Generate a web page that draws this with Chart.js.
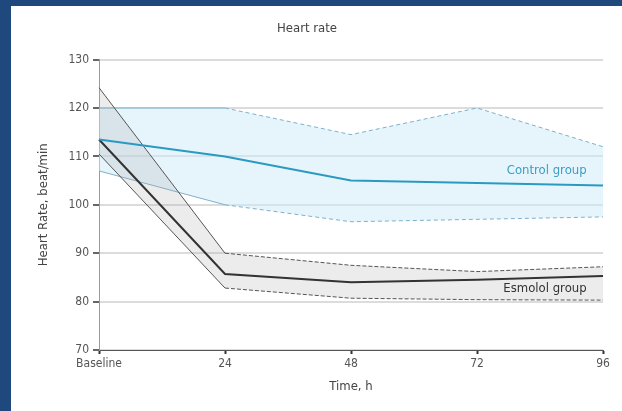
<!DOCTYPE html>
<html>
<head>
<meta charset="utf-8">
<script src="https://cdn.jsdelivr.net/npm/chart.js@4.4.1/dist/chart.umd.min.js"></script>
<style>
  html, body { margin: 0; padding: 0; background: #1f487c; width: 622px; height: 411px; overflow: hidden; }
  #wrap { position: absolute; left: 11px; top: 6px; width: 611px; height: 405px; background: #ffffff; }
  canvas { display: block; }
</style>
</head>
<body>
<div id="wrap"><canvas id="c" width="611" height="405"></canvas></div>
<script>
// Time points (hours after baseline)
const timeLabels = ['Baseline', '24', '48', '72', '96'];

// Control group heart rate (beat/min): mean and band limits
const controlMean  = [113.5, 110, 105, 104.5, 104];
const controlUpper = [120, 120, 114.5, 120, 112];
const controlLower = [107, 100, 96.5, 97, 97.5];

// Esmolol group heart rate (beat/min): mean and band limits
const esmololMean  = [113.5, 85.7, 84, 84.5, 85.3];
const esmololUpper = [124.2, 90, 87.5, 86.2, 87.2];
const esmololLower = [110.5, 82.8, 80.7, 80.4, 80.3];

// Y axis range and step
const yMin = 70, yMax = 130, yStep = 10;

const FONT = "'DejaVu Sans Condensed', 'Liberation Sans Narrow', 'DejaVu Sans', sans-serif";
const TEXT = '#555555';

const firstSolid = dash => ({
  borderDash: c => (c.p0DataIndex === 0 ? [] : dash)
});

// Series name labels placed next to the right end of each group
const groupLabels = {
  id: 'groupLabels',
  afterDatasetsDraw(chart) {
    const { ctx, scales: { x, y } } = chart;
    const xr = x.getPixelForValue(3.87);
    ctx.save();
    ctx.font = '13px ' + FONT;
    ctx.textAlign = 'right';
    ctx.textBaseline = 'middle';
    ctx.fillStyle = '#3a9ec6';
    ctx.fillText('Control group', xr, y.getPixelForValue(107));
    ctx.fillStyle = '#333333';
    ctx.fillText('Esmolol group', xr, y.getPixelForValue(82.6));
    ctx.restore();
  }
};

new Chart(document.getElementById('c'), {
  type: 'line',
  data: {
    labels: timeLabels,
    datasets: [
      { data: controlLower, borderColor: '#7fb0cc', borderWidth: 1, segment: firstSolid([4, 3]), pointRadius: 0, fill: false, order: 4 },
      { data: controlUpper, borderColor: '#7fb0cc', borderWidth: 1, segment: firstSolid([4, 3]), pointRadius: 0, fill: '-1', backgroundColor: 'rgba(205,236,250,0.5)', order: 4 },
      { data: esmololLower, borderColor: '#555555', borderWidth: 1, segment: firstSolid([4, 2]), pointRadius: 0, fill: false, order: 3 },
      { data: esmololUpper, borderColor: '#555555', borderWidth: 1, segment: firstSolid([4, 2]), pointRadius: 0, fill: '-1', backgroundColor: 'rgba(170,170,170,0.22)', order: 3 },
      { data: controlMean, borderColor: '#2b9ac2', borderWidth: 2, pointRadius: 0, fill: false, order: 1 },
      { data: esmololMean, borderColor: '#333333', borderWidth: 2, pointRadius: 0, fill: false, order: 1 }
    ]
  },
  options: {
    responsive: false,
    animation: false,
    layout: { padding: { left: 0, right: 19, top: 0, bottom: 0 } },
    plugins: {
      legend: { display: false },
      tooltip: { enabled: false },
      title: {
        display: true,
        text: 'Heart rate',
        color: '#444444',
        font: { family: FONT, size: 13, weight: 'normal' },
        padding: { top: 15, bottom: 23 }
      }
    },
    scales: {
      x: {
        type: 'category',
        offset: false,
        grid: { drawOnChartArea: false, tickColor: '#333333', tickLength: 4, tickWidth: 2 },
        border: { color: '#555555', width: 1 },
        ticks: { color: TEXT, font: { family: FONT, size: 12 }, padding: 3, maxRotation: 0, autoSkip: false },
        title: { display: true, text: 'Time, h', color: '#444444', font: { family: FONT, size: 13 }, padding: { top: 4, bottom: 17 } },
        afterFit(s) { s.height = 61; }
      },
      y: {
        min: yMin, max: yMax,
        ticks: { stepSize: yStep, color: TEXT, font: { family: FONT, size: 12 }, padding: 4 },
        grid: { color: '#dcdcdc', lineWidth: 2, tickColor: '#333333', tickLength: 6, tickWidth: 1.5 },
        border: { color: '#9a9a9a', width: 1 },
        title: { display: true, text: 'Heart Rate, beat/min', color: '#444444', font: { family: FONT, size: 13 }, padding: { top: 25, bottom: 8 } },
        afterFit(s) { s.width = 88; }
      }
    }
  },
  plugins: [groupLabels]
});
</script>
</body>
</html>
